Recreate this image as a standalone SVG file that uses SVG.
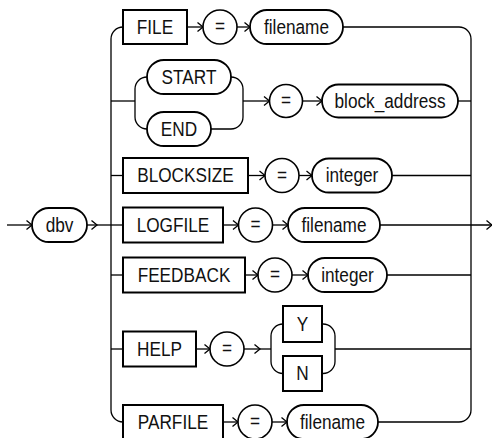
<svg xmlns="http://www.w3.org/2000/svg" width="492" height="438" viewBox="0 0 492 438">
<style>
.bx{fill:#fff;stroke:#000;stroke-width:2}
.ov{fill:#fff;stroke:#000;stroke-width:1.8}
.cr{fill:#fff;stroke:#000;stroke-width:1.6}
.ln{fill:none;stroke:#000;stroke-width:1.3}
.ar{fill:none;stroke:#000;stroke-width:1.3;marker-end:url(#a)}
text{font-family:"Liberation Sans",Arial,sans-serif;font-size:20.5px;text-anchor:middle;fill:#111;transform-box:fill-box;transform-origin:center;transform:scaleX(0.84)}
</style>
<defs>
<marker id="a" markerUnits="userSpaceOnUse" markerWidth="10" markerHeight="12" viewBox="-7 -6 8 12" refX="0" refY="0" orient="auto">
<path d="M-5.5,-4.5 L0,0 L-5.5,4.5" fill="none" stroke="#000" stroke-width="1.3"/>
</marker>
</defs>
<g id="connectors">
<path class="ar" d="M7,225 H32"/>
<path class="ar" d="M87,225 H97"/>
<path class="ln" d="M97,225 H123"/>
<path class="ln" d="M123,27 A12,12 0 0 0 111,39 V410 A12,12 0 0 0 123,422"/>
<path class="ln" d="M343,27 H459 A12,12 0 0 1 471,39 V410 A12,12 0 0 1 459,422 H378"/>
<path class="ar" d="M187,27 H203"/>
<path class="ar" d="M237,27 H250"/>
<path class="ln" d="M111,101 H135"/>
<path class="ln" d="M147,77 A12,12 0 0 0 135,89 V117 A12,12 0 0 0 147,129"/>
<path class="ln" d="M231,77 A12,12 0 0 1 243,89 V117 A12,12 0 0 1 231,129 H211"/>
<path class="ar" d="M243,101 H269.5"/>
<path class="ar" d="M302.5,101 H322"/>
<path class="ln" d="M458,101 H471"/>
<path class="ln" d="M111,175.5 H123"/>
<path class="ar" d="M248,175.5 H265"/>
<path class="ar" d="M299,175.5 H312"/>
<path class="ln" d="M392,175.5 H471"/>
<path class="ar" d="M223,225 H238.5"/>
<path class="ar" d="M272.5,225 H288"/>
<path class="ar" d="M380,225 H492"/>
<path class="ln" d="M111,275 H123"/>
<path class="ar" d="M245,275 H258"/>
<path class="ar" d="M292,275 H308"/>
<path class="ln" d="M387,275 H471"/>
<path class="ln" d="M111,349 H123"/>
<path class="ar" d="M196,349 H210"/>
<path class="ar" d="M244,349 H260"/>
<path class="ln" d="M260,349 H271"/>
<path class="ln" d="M283,324 A12,12 0 0 0 271,336 V361.5 A12,12 0 0 0 283,373.5"/>
<path class="ln" d="M322,324 H323 A12,12 0 0 1 335,336 V361.5 A12,12 0 0 1 323,373.5 H322"/>
<path class="ln" d="M335,349 H471"/>
<path class="ar" d="M223,422 H238"/>
<path class="ar" d="M272,422 H287"/>
</g>
<g id="dbv"><rect class="ov" x="32" y="208" width="55" height="34" rx="17"/><text x="59.5" y="232">dbv</text></g>
<g id="file"><rect class="bx" x="123" y="10" width="64" height="34"/><text x="155" y="34">FILE</text></g>
<g id="eq1"><circle class="cr" cx="220" cy="27" r="17"/><text x="220" y="33.5">=</text></g>
<g id="filename1"><rect class="ov" x="250" y="10" width="93" height="34" rx="17"/><text x="296.5" y="34">filename</text></g>
<g id="start"><rect class="ov" x="147" y="60" width="84" height="34" rx="17"/><text x="189" y="84">START</text></g>
<g id="end"><rect class="ov" x="147" y="112" width="64" height="34" rx="17"/><text x="179" y="136">END</text></g>
<g id="eq2"><circle class="cr" cx="286" cy="101" r="16.5"/><text x="286" y="107.5">=</text></g>
<g id="block_address"><rect class="ov" x="322" y="84.5" width="136" height="33" rx="16.5"/><text x="390" y="108.5">block_address</text></g>
<g id="blocksize"><rect class="bx" x="123" y="158" width="125" height="35"/><text x="185.5" y="182.5">BLOCKSIZE</text></g>
<g id="eq3"><circle class="cr" cx="282" cy="175.5" r="17"/><text x="282" y="182">=</text></g>
<g id="integer1"><rect class="ov" x="312" y="158.5" width="80" height="34" rx="17"/><text x="352" y="182.5">integer</text></g>
<g id="logfile"><rect class="bx" x="123" y="207.5" width="100" height="35"/><text x="173" y="232">LOGFILE</text></g>
<g id="eq4"><circle class="cr" cx="255.5" cy="225" r="17"/><text x="255.5" y="231.5">=</text></g>
<g id="filename2"><rect class="ov" x="288" y="208" width="92" height="34" rx="17"/><text x="334" y="232">filename</text></g>
<g id="feedback"><rect class="bx" x="123" y="257.5" width="122" height="35"/><text x="184" y="282">FEEDBACK</text></g>
<g id="eq5"><circle class="cr" cx="275" cy="275" r="17"/><text x="275" y="281.5">=</text></g>
<g id="integer2"><rect class="ov" x="308" y="258" width="79" height="34" rx="17"/><text x="347.5" y="282">integer</text></g>
<g id="help"><rect class="bx" x="123" y="331.5" width="73" height="35"/><text x="159.5" y="356">HELP</text></g>
<g id="eq6"><circle class="cr" cx="227" cy="349" r="17"/><text x="227" y="355.5">=</text></g>
<g id="y"><rect class="bx" x="283" y="306" width="39" height="36"/><text x="302.5" y="331">Y</text></g>
<g id="n"><rect class="bx" x="283" y="356" width="39" height="35"/><text x="302.5" y="380.5">N</text></g>
<g id="parfile"><rect class="bx" x="123" y="405" width="100" height="35"/><text x="173" y="429.5">PARFILE</text></g>
<g id="eq7"><circle class="cr" cx="255" cy="422" r="17"/><text x="255" y="428.5">=</text></g>
<g id="filename3"><rect class="ov" x="287" y="405" width="91" height="34" rx="17"/><text x="332.5" y="429">filename</text></g>
</svg>
